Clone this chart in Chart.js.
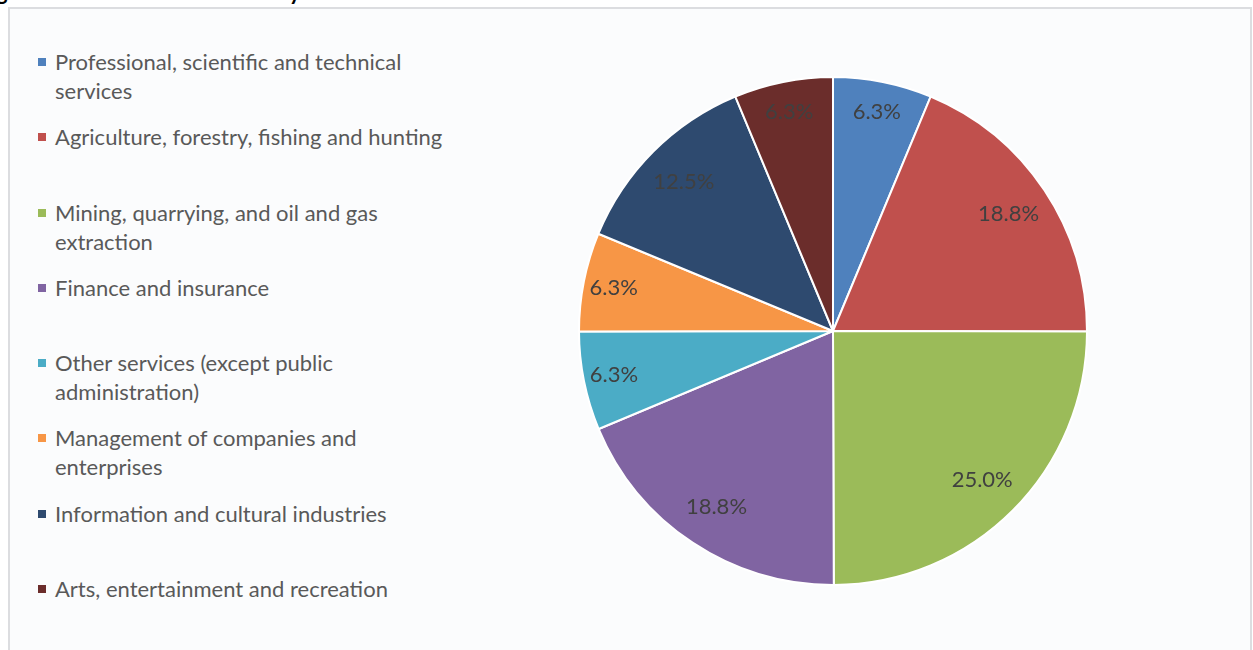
<!DOCTYPE html>
<html lang="en">
<head>
    <meta charset="UTF-8">
    <title>Distribution of Firms by Sector</title>
    <script src="https://cdn.jsdelivr.net/npm/chart.js"></script>
    <style>
        body {
            margin: 0;
            width: 1253px;
            height: 650px;
            overflow: hidden;
            background: #ffffff;
            font-family: Lato, "Open Sans", sans-serif;
            position: relative;
        }
        .title {
            position: absolute;
            left: -22px;
            top: -21px;
            font-size: 22px;
            line-height: 26px;
            font-weight: bold;
            color: #000;
            white-space: nowrap;
        }
        .frame {
            position: absolute;
            left: 8px;
            top: 7px;
            width: 1240px;
            height: 700px;
            border: 2px solid #dcdde0;
            background: #fbfcfd;
        }
        .legend {
            position: absolute;
            left: 38px;
            top: 47px;
        }
        .legend-item {
            position: relative;
            height: 75.3px;
            padding-left: 17px;
            color: #595959;
            font-size: 22px;
            line-height: 29px;
        }
        .legend-box {
            position: absolute;
            left: 0;
            top: 11px;
            width: 8px;
            height: 8px;
        }
        .chart-wrap {
            position: absolute;
            left: 558px;
            top: 56px;
            width: 550px;
            height: 550px;
        }
    </style>
</head>
<body>
    <div class="title">Figure 6: Distribution of Firms by Sector</div>
    <div class="frame"></div>
    <div class="legend" id="legend"></div>
    <div class="chart-wrap"><canvas id="pieChart"></canvas></div>

    <script>
        // Sectors, in clockwise order from twelve o'clock
        const sectors = [
            ['Professional, scientific and technical', 'services'],
            ['Agriculture, forestry, fishing and hunting'],
            ['Mining, quarrying, and oil and gas', 'extraction'],
            ['Finance and insurance'],
            ['Other services (except public', 'administration)'],
            ['Management of companies and', 'enterprises'],
            ['Information and cultural industries'],
            ['Arts, entertainment and recreation']
        ];
        // Share of firms per sector (%)
        const shares = [6.3, 18.8, 25.0, 18.8, 6.3, 6.3, 12.5, 6.3];
        const sliceColors = ['#4f81bd', '#c0504d', '#9bbb59', '#8064a2', '#4bacc6', '#f79646', '#2e4a6f', '#6b2d2b'];

        // Legend on the left, one slot per sector
        const legendEl = document.getElementById('legend');
        sectors.forEach((lines, i) => {
            const item = document.createElement('div');
            item.className = 'legend-item';
            const box = document.createElement('span');
            box.className = 'legend-box';
            box.style.background = sliceColors[i];
            item.appendChild(box);
            lines.forEach(line => {
                const row = document.createElement('div');
                row.textContent = line;
                item.appendChild(row);
            });
            legendEl.appendChild(item);
        });

        // Percentage labels drawn inside each slice, narrow slices nearer the rim
        const sliceLabels = {
            id: 'sliceLabels',
            afterDatasetsDraw(chart) {
                const ctx = chart.ctx;
                const meta = chart.getDatasetMeta(0);
                ctx.save();
                ctx.font = '22px Lato, "Open Sans", sans-serif';
                ctx.fillStyle = '#404040';
                ctx.textAlign = 'center';
                ctx.textBaseline = 'middle';
                meta.data.forEach((arc, i) => {
                    const p = arc.getProps(['x', 'y', 'startAngle', 'endAngle', 'outerRadius'], true);
                    const span = p.endAngle - p.startAngle;
                    const mid = (p.startAngle + p.endAngle) / 2;
                    const r = p.outerRadius * (span < 0.6 ? 0.88 : 0.83);
                    const value = chart.data.datasets[0].data[i];
                    ctx.fillText(value.toFixed(1) + '%', p.x + Math.cos(mid) * r, p.y + Math.sin(mid) * r);
                });
                ctx.restore();
            }
        };

        new Chart(document.getElementById('pieChart').getContext('2d'), {
            type: 'pie',
            data: {
                labels: sectors.map(s => s.join(' ')),
                datasets: [{
                    data: shares,
                    backgroundColor: sliceColors,
                    borderColor: '#ffffff',
                    borderWidth: 2
                }]
            },
            options: {
                responsive: true,
                maintainAspectRatio: false,
                animation: false,
                layout: { padding: 20 },
                plugins: {
                    legend: { display: false },
                    tooltip: { enabled: false }
                }
            },
            plugins: [sliceLabels]
        });
    </script>
</body>
</html>
